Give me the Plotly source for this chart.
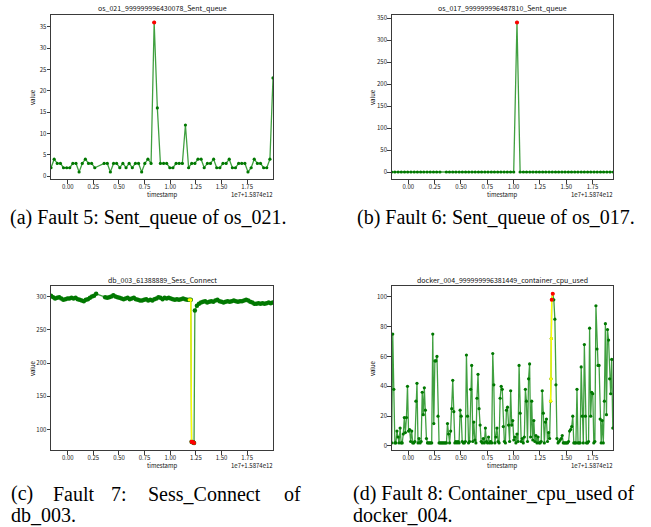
import plotly.graph_objects as go

W, H = 651, 527
TF = "Noto Sans CJK SC"
CF = "Liberation Serif"

# ---------------- (a) os_021 Sent_queue ----------------
a_x = [-0.163, -0.132, -0.102, -0.071, -0.041, -0.010, 0.020, 0.050, 0.081, 0.111,
       0.142, 0.172, 0.203, 0.233, 0.264,
       0.355, 0.386, 0.416, 0.447, 0.477, 0.508, 0.538, 0.569, 0.599, 0.630,
       0.660, 0.691, 0.721, 0.752, 0.782, 0.813, 0.843, 0.874, 0.904, 0.935,
       0.965, 0.996, 1.026, 1.057, 1.087, 1.118, 1.148, 1.179, 1.209, 1.240,
       1.270, 1.301, 1.331, 1.362, 1.392, 1.423, 1.453, 1.484, 1.514, 1.545,
       1.575, 1.606, 1.636, 1.667, 1.697, 1.728, 1.758, 1.789, 1.819, 1.850,
       1.880, 1.911, 1.941, 1.972, 2.002]
a_y = [2, 4, 3, 3, 2, 2, 2, 3, 3, 1,
       3, 4, 3, 3, 2,
       3, 3, 1, 3, 3, 2, 3, 2, 3, 2,
       3, 3, 1, 3, 4, 3, 36, 16, 3, 3,
       3, 2, 2, 3, 3, 3, 12, 2, 3, 3,
       4, 4, 2, 3, 3, 4, 2, 2, 3, 3,
       4, 2, 2, 3, 3, 3, 1, 2, 4, 3,
       3, 2, 2, 4, 23]
a_red_x = [0.843]
a_red_y = [36]

# ---------------- (b) os_017 Sent_queue ----------------
b_x = [-0.158, -0.128, -0.097, -0.067, -0.036, -0.006, 0.025, 0.056, 0.086, 0.117,
       0.147, 0.178, 0.208, 0.239, 0.269, 0.300,
       0.361, 0.391, 0.422, 0.452, 0.483, 0.513, 0.544, 0.574, 0.605, 0.635,
       0.666, 0.696, 0.727, 0.757, 0.788, 0.818, 0.849, 0.879, 0.910, 0.940,
       0.971, 1.001, 1.032, 1.062, 1.093, 1.123, 1.154, 1.184, 1.215, 1.245,
       1.276, 1.306, 1.337, 1.367, 1.398, 1.428, 1.459, 1.489, 1.520, 1.550,
       1.581, 1.611, 1.642, 1.672, 1.703, 1.733, 1.764, 1.794, 1.825, 1.855,
       1.886, 1.916, 1.947]
b_y = [0, 0, 0, 0, 0, 0, 0, 0, 0, 0,
       0, 0, 0, 0, 0, 0,
       0, 0, 0, 0, 0, 0, 0, 0, 0, 0,
       0, 0, 0, 0, 0, 0, 0, 0, 0, 0,
       0, 0, 340, 0, 0, 0, 0, 0, 0, 0,
       0, 0, 0, 0, 0, 0, 0, 0, 0, 0,
       0, 0, 0, 0, 0, 0, 0, 0, 0, 0,
       0, 0, 0]
b_red_x = [1.032]
b_red_y = [340]

# ---------------- (c) db_003 Sess_Connect ----------------
c_x = [-0.163, -0.143, -0.123, -0.103, -0.083, -0.063, -0.043, -0.023, -0.003, 0.017,
       0.037, 0.057, 0.077, 0.097, 0.117, 0.137, 0.157, 0.177, 0.197, 0.217,
       0.237, 0.257, 0.277,
       0.365, 0.385, 0.405, 0.425, 0.445, 0.465, 0.485, 0.505, 0.525, 0.545,
       0.565, 0.585, 0.605, 0.625, 0.645, 0.665, 0.685, 0.705, 0.725, 0.745,
       0.765, 0.785, 0.805, 0.825, 0.845, 0.865, 0.885, 0.905, 0.925, 0.945,
       0.965, 0.985, 1.005, 1.025, 1.045, 1.065, 1.085, 1.105, 1.125, 1.145,
       1.165, 1.185,
       1.200, 1.208, 1.216, 1.224, 1.232,
       1.240, 1.260, 1.280, 1.300, 1.320, 1.340, 1.360, 1.380, 1.400, 1.420,
       1.440, 1.460, 1.480, 1.500, 1.520, 1.540, 1.560, 1.580, 1.600, 1.620,
       1.640, 1.660, 1.680, 1.700, 1.720, 1.740, 1.760, 1.780, 1.800, 1.820,
       1.840, 1.860, 1.880, 1.900, 1.920, 1.940, 1.960, 1.980, 2.000]
c_y = [301, 299, 297, 298, 299, 297, 295, 296, 297, 297,
       298, 297, 298, 296, 295, 294, 293, 295, 296, 298,
       300, 301, 304,
       299, 298, 299, 300, 302, 300, 299, 298, 297, 296,
       297, 298, 296, 297, 298, 296, 295, 294, 294, 295,
       296, 294, 295, 294, 296, 297, 299, 298, 296, 298,
       297, 298, 297, 296, 295, 296, 295, 296, 297, 296,
       295, 295,
       295, 82, 81, 81, 80,
       279, 286, 289, 291, 292, 293, 291, 292, 293, 292,
       294, 295, 293, 292, 291, 292, 293, 292, 293, 294,
       293, 292, 293, 293, 294, 295, 294, 292, 291, 289,
       289, 290, 289, 290, 289, 290, 291, 290, 291]
c_yel_x = [1.185, 1.200, 1.208]
c_yel_y = [295, 295, 82]
c_red_x = [1.208, 1.216, 1.224, 1.232]
c_red_y = [82, 81, 81, 80]

# ---------------- (d) docker_004 container_cpu_used ----------------
d_x = [-0.158, -0.148, -0.138, -0.128, -0.118, -0.108, -0.098, -0.088, -0.078, -0.068,
       -0.058, -0.048, -0.038, -0.028, -0.018, -0.008, 0.002, 0.012, 0.022, 0.032,
       0.042, 0.052, 0.062, 0.072, 0.082, 0.092, 0.102, 0.112, 0.122, 0.132,
       0.142, 0.152, 0.162, 0.172, 0.182, 0.192, 0.202, 0.212, 0.222, 0.232,
       0.242, 0.252, 0.262, 0.272, 0.282, 0.292, 0.302, 0.312, 0.322, 0.332,
       0.342, 0.352, 0.362, 0.372, 0.382, 0.392, 0.402, 0.412, 0.422, 0.432,
       0.442, 0.452, 0.462, 0.472, 0.482, 0.492, 0.502, 0.512, 0.522, 0.532,
       0.542, 0.552, 0.562, 0.572, 0.582, 0.592, 0.602, 0.612, 0.622, 0.632,
       0.642, 0.652, 0.662, 0.672, 0.682, 0.692, 0.702, 0.712, 0.722, 0.732,
       0.742, 0.752, 0.762, 0.772, 0.782, 0.792, 0.802, 0.812, 0.822, 0.832,
       0.842, 0.852, 0.862, 0.872, 0.882, 0.892, 0.902, 0.912, 0.922, 0.932,
       0.942, 0.952, 0.962, 0.972, 0.982, 0.992, 1.002, 1.012, 1.022, 1.032,
       1.042, 1.052, 1.062, 1.072, 1.082, 1.092, 1.102, 1.112, 1.122, 1.132,
       1.142, 1.152, 1.162, 1.172, 1.182, 1.192, 1.202, 1.212, 1.222, 1.232,
       1.242, 1.252, 1.262, 1.272, 1.282, 1.292, 1.302, 1.312, 1.322, 1.332,
       1.342, 1.352, 1.355, 1.358,
       1.362, 1.372, 1.382, 1.392, 1.402, 1.412, 1.422, 1.432,
       1.442, 1.452, 1.462, 1.472, 1.482, 1.492, 1.502, 1.512, 1.522, 1.532,
       1.542, 1.552, 1.562, 1.572, 1.582, 1.592, 1.602, 1.612, 1.622, 1.632,
       1.642, 1.652, 1.662, 1.672, 1.682, 1.692, 1.702, 1.712, 1.722, 1.732,
       1.742, 1.752, 1.762, 1.772, 1.782, 1.792, 1.802, 1.812, 1.822, 1.832,
       1.842, 1.852, 1.862, 1.872, 1.882, 1.892, 1.902, 1.912, 1.922, 1.932,
       1.942]
d_y = [2, 75, 38, 2, 2, 10, 6, 2, 12, 2,
       2, 8, 19, 9, 19, 40, 10, 11, 3, 10,
       2, 2, 3, 30, 42, 2, 5, 2, 3, 36,
       21, 39, 24, 5, 2, 2, 2, 2, 2, 75,
       15, 57, 57, 60, 20, 2, 2, 2, 2, 2,
       2, 2, 2, 15, 8, 2, 10, 25, 44, 23,
       2, 3, 2, 3, 2, 24, 20, 3, 2, 2,
       3, 61, 20, 2, 3, 38, 54, 3, 16, 4,
       2, 32, 48, 25, 14, 3, 2, 5, 2, 12,
       3, 2, 6, 2, 3, 2, 62, 41, 2, 6,
       12, 3, 2, 32, 40, 38, 13, 3, 2, 24,
       26, 14, 3, 37, 14, 17, 4, 6, 2, 8,
       3, 54, 22, 3, 5, 2, 6, 38, 30, 3,
       45, 55, 6, 30, 4, 17, 3, 7, 2, 6,
       2, 2, 3, 37, 22, 2, 16, 18, 3, 9,
       5, 30, 45, 72,
       98, 102, 98, 85, 41, 5, 2, 3,
       4, 5, 7, 2, 2, 2, 2, 2, 3, 10,
       11, 13, 20, 2, 2, 2, 38, 2, 2, 2,
       53, 20, 2, 68, 20, 2, 2, 3, 79, 20,
       36, 35, 2, 3, 94, 65, 54, 54, 18, 2,
       17, 2, 30, 82, 21, 78, 71, 45, 35, 58,
       12]
d_yel_x = [1.352, 1.355, 1.358, 1.362, 1.372]
d_yel_y = [30, 45, 72, 98, 102]
d_red_x = [1.362, 1.372]
d_red_y = [98, 102]

x_tickvals = [0.0, 0.25, 0.5, 0.75, 1.0, 1.25, 1.5, 1.75]
x_ticktext = ["0.00", "0.25", "0.50", "0.75", "1.00", "1.25", "1.50", "1.75"]

titles = ["os_021_999999996430078_Sent_queue", "os_017_999999996487810_Sent_queue",
          "db_003_61388889_Sess_Connect", "docker_004_999999996381449_container_cpu_used"]

# ---------------- figure ----------------
GREEN_LINE = "rgba(0,128,0,0.75)"
GREEN = "#007800"

fig = go.Figure()

def add_series(x, y, xa, ya, msize=3.2):
    fig.add_trace(go.Scatter(x=x, y=y, mode="lines+markers", xaxis=xa, yaxis=ya,
                             line=dict(color=GREEN_LINE, width=1.3),
                             marker=dict(color=GREEN, size=msize), showlegend=False,
                             hoverinfo="skip"))

def add_yellow(x, y, xa, ya):
    fig.add_trace(go.Scatter(x=x, y=y, mode="lines+markers", xaxis=xa, yaxis=ya,
                             line=dict(color="#ffff00", width=1.4),
                             marker=dict(color="#ffff00", size=3.2), showlegend=False,
                             hoverinfo="skip"))

def add_red(x, y, xa, ya):
    fig.add_trace(go.Scatter(x=x, y=y, mode="markers", xaxis=xa, yaxis=ya,
                             marker=dict(color="#ff0000", size=4), showlegend=False,
                             hoverinfo="skip"))

add_series(a_x, a_y, "x", "y")
add_red(a_red_x, a_red_y, "x", "y")
add_series(b_x, b_y, "x2", "y2")
add_red(b_red_x, b_red_y, "x2", "y2")
add_series(c_x, c_y, "x3", "y3", msize=4.5)
add_yellow(c_yel_x, c_yel_y, "x3", "y3")
add_red(c_red_x, c_red_y, "x3", "y3")
add_series(d_x, d_y, "x4", "y4")
add_yellow(d_yel_x, d_yel_y, "x4", "y4")
add_red(d_red_x, d_red_y, "x4", "y4")

def dx(l, r):
    return [l / W, r / W]

def dy(t, b):
    return [1 - b / H, 1 - t / H]

def px(x):
    return x / W

def py(y):
    return 1 - y / H

axis_common = dict(showline=True, mirror=True, linecolor="#3a3a3a", linewidth=1,
                   ticks="outside", ticklen=3.5, tickwidth=0.8, tickcolor="#3a3a3a",
                   tickfont=dict(family=TF, size=6, color="#222"),
                   showgrid=False, zeroline=False)
x_common = dict(axis_common, ticklabelstandoff=-2)
y_common = dict(axis_common, ticklabelstandoff=-1)

boxes = {
    "a": (51, 273, 13, 178.5),
    "b": (391.7, 613.3, 13, 178.5),
    "c": (51, 273, 286, 451),
    "d": (391.7, 613.3, 286, 451),
}

fig.update_layout(
    width=W, height=H, margin=dict(l=0, r=0, t=0, b=0),
    paper_bgcolor="white", plot_bgcolor="white", showlegend=False,
    xaxis=dict(domain=dx(boxes["a"][0], boxes["a"][1]), anchor="y", range=[-0.163, 2.002],
               tickvals=x_tickvals, ticktext=x_ticktext, **x_common),
    yaxis=dict(domain=dy(boxes["a"][2], boxes["a"][3]), anchor="x", range=[-0.75, 37.75],
               tickvals=[0, 5, 10, 15, 20, 25, 30, 35], **y_common),
    xaxis2=dict(domain=dx(boxes["b"][0], boxes["b"][1]), anchor="y2", range=[-0.158, 1.947],
                tickvals=x_tickvals, ticktext=x_ticktext, **x_common),
    yaxis2=dict(domain=dy(boxes["b"][2], boxes["b"][3]), anchor="x2", range=[-17, 357],
                tickvals=[0, 50, 100, 150, 200, 250, 300, 350], **y_common),
    xaxis3=dict(domain=dx(boxes["c"][0], boxes["c"][1]), anchor="y3", range=[-0.163, 2.002],
                tickvals=x_tickvals, ticktext=x_ticktext, **x_common),
    yaxis3=dict(domain=dy(boxes["c"][2], boxes["c"][3]), anchor="x3", range=[68.8, 315.2],
                tickvals=[100, 150, 200, 250, 300], **y_common),
    xaxis4=dict(domain=dx(boxes["d"][0], boxes["d"][1]), anchor="y4", range=[-0.158, 1.947],
                tickvals=x_tickvals, ticktext=x_ticktext, **x_common),
    yaxis4=dict(domain=dy(boxes["d"][2], boxes["d"][3]), anchor="x4", range=[-3, 107],
                tickvals=[0, 20, 40, 60, 80, 100], **y_common),
)

ann = []

def text(x, y, s, size, family=TF, xanchor="center", angle=0, color="#111", pad=1):
    ann.append(dict(x=px(x), y=py(y), xref="paper", yref="paper", text=s, showarrow=False,
                    xanchor=xanchor, yanchor="middle", textangle=angle, borderpad=pad,
                    font=dict(family=family, size=size, color=color)))

for key, title in zip(["a", "b", "c", "d"], titles):
    l, r, t, b = boxes[key]
    cx = (l + r) / 2
    text(cx, t - 6.5, title, 7.0)
    text(cx, b + 15.0, "timestamp", 6, pad=0)
    text(r + 1, b + 15.0, "1e7+1.5874e12", 6, xanchor="right", pad=0)
    text(l - 18.3 if key in ("a", "c") else l - 19, (t + b) / 2, "value", 6, angle=-90)

# captions
text(148.5, 216.7, "(a) Fault 5: Sent_queue of os_021.", 20, family=CF, color="black")
text(496, 216.7, "(b) Fault 6: Sent_queue of os_017.", 20, family=CF, color="black")
for wx, w in [(9, "(c)"), (51, "Fault"), (109, "7:"), (146, "Sess_Connect"), (282, "of")]:
    text(wx, 494.7, w, 20, family=CF, xanchor="left", color="black")
text(9, 515.7, "db_003.", 20, family=CF, xanchor="left", color="black")
text(351, 494.7, "(d) Fault 8: Container_cpu_used of", 20, family=CF, xanchor="left", color="black")
text(351, 515.7, "docker_004.", 20, family=CF, xanchor="left", color="black")

fig.update_layout(annotations=ann)

fig.write_html("out.html", config={"displayModeBar": False},
               post_script="document.body.style.margin='0px';document.body.style.overflow='hidden';")
